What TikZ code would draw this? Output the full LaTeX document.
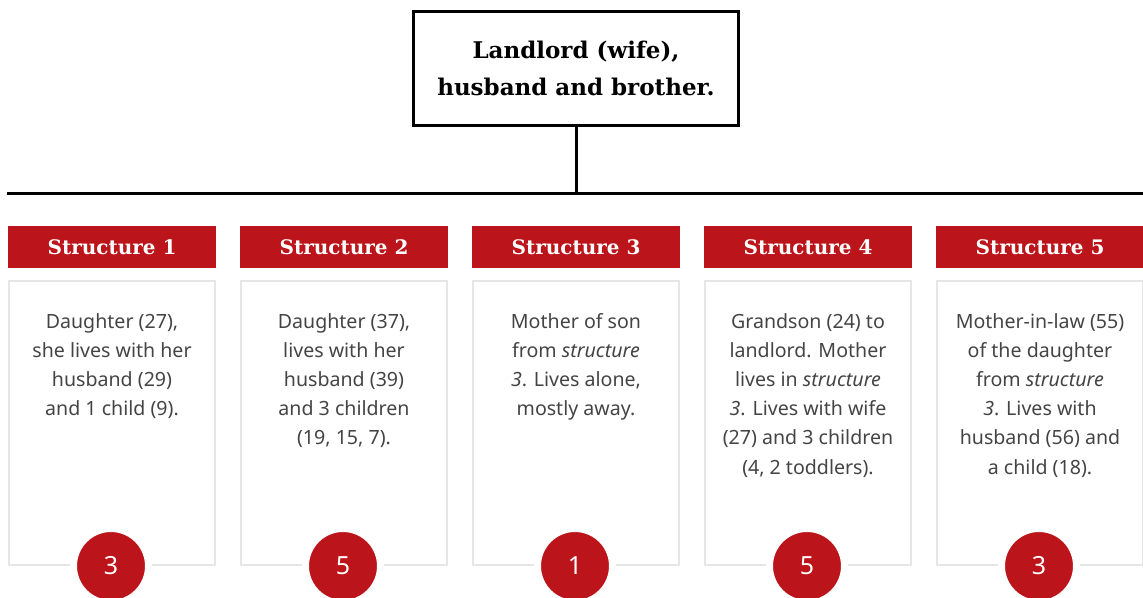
\documentclass[tikz,border=0pt]{standalone}
\usepackage{fontspec}
\setmainfont{Noto Sans}
\newfontfamily\slabfont{DejaVu Serif}
\usetikzlibrary{positioning}

\definecolor{stred}{HTML}{BB141A}
\definecolor{cardgray}{HTML}{E6E6E6}
\definecolor{bodygray}{HTML}{444444}

\begin{document}
\begin{tikzpicture}[x=1pt, y=-1pt, line cap=rect,
    topbox/.style={draw=black, line width=3pt, minimum width=325pt, minimum height=114pt,
      align=center, font=\slabfont\bfseries\fontsize{23}{37}\selectfont},
    headbox/.style={fill=stred, text=white, minimum width=208pt, minimum height=42pt,
      inner sep=0pt, font=\slabfont\bfseries\fontsize{20}{24}\selectfont},
    cardbox/.style={draw=cardgray, line width=2pt},
    cardtext/.style={anchor=north, align=center, text=bodygray, inner sep=0pt,
      font=\fontsize{19.6}{29.2}\selectfont},
    countdot/.style={circle, fill=stred, draw=white, line width=7pt, minimum size=75pt,
      inner sep=0pt, text=white, font=\fontsize{25}{28}\selectfont}]
  \useasboundingbox (0,0) rectangle (1143,597);

  % landlord box and the line down to the bar
  \node[topbox] (landlord) at (576,68.5) {Landlord (wife),\\husband and brother.};
  \coordinate (bar) at (576,193);
  \draw[line width=3pt] (landlord.south) -- (bar);
  \draw[line width=3pt] (8,193) -- (1143,193);

  % five structures: header, card, head count
  \foreach \i/\cnt/\txt in {%
      1/3/{Daughter (27),\\she lives with her\\husband (29)\\and 1 child (9).},
      2/5/{Daughter (37),\\lives with her\\husband (39)\\and 3 children\\(19, 15, 7).},
      3/1/{Mother of son\\from \textit{structure}\\\textit{3}. Lives alone,\\mostly away.},
      4/5/{Grandson (24) to\\landlord. Mother\\lives in \textit{structure}\\\textit{3}. Lives with wife\\(27) and 3 children\\(4, 2 toddlers).},
      5/3/{Mother-in-law (55)\\of the daughter\\from \textit{structure}\\\textit{3}. Lives with\\husband (56) and\\a child (18).}} {
    \pgfmathsetmacro{\xc}{112+232*(\i-1)}
    \node[headbox] (head\i) at (\xc,247) {Structure \i};
    \draw[cardbox] (\xc-103,281) rectangle (\xc+103,565);
    \node[cardtext] (card\i) at (\xc,313) {\txt};
    \node[countdot] (count\i) at (\xc-1,566) {\cnt};
  }
\end{tikzpicture}
\end{document}
